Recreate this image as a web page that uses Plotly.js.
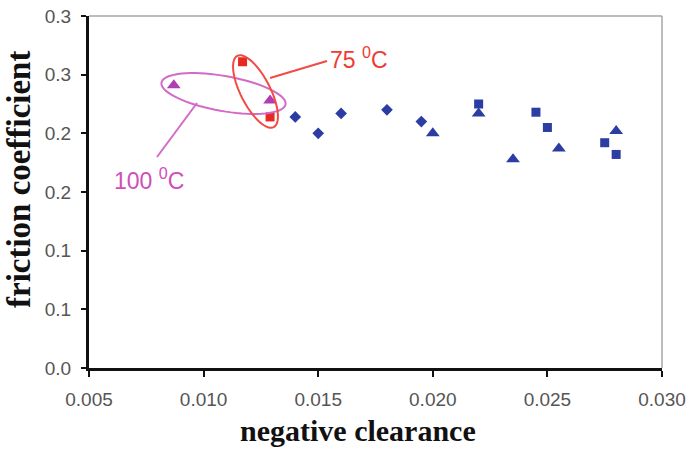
<!DOCTYPE html>
<html>
<head>
<meta charset="utf-8">
<script src="https://cdn.plot.ly/plotly-3.0.1.min.js"></script>
<style>html,body{margin:0;padding:0;background:#fff;}#chart{width:686px;height:449px;}</style>
</head>
<body>
<div id="chart"></div>
<script>
// ---- data ----
var diamondX = [0.0140, 0.0150, 0.0160, 0.0180, 0.0195];
var diamondY = [0.214, 0.200, 0.217, 0.220, 0.210];
var squareX  = [0.0220, 0.0245, 0.0250, 0.0275, 0.0280];
var squareY  = [0.225, 0.218, 0.205, 0.192, 0.182];
var triX     = [0.0200, 0.0220, 0.0235, 0.0255, 0.0280];
var triY     = [0.200, 0.217, 0.178, 0.187, 0.202];
var t75X     = [0.0117, 0.0129];
var t75Y     = [0.261, 0.214];
var t100X    = [0.0087, 0.0129];
var t100Y    = [0.241, 0.228];

var xTickVals = [0.005, 0.010, 0.015, 0.020, 0.025, 0.030];
var xTickText = ['0.005', '0.010', '0.015', '0.020', '0.025', '0.030'];
var yTickVals = [0, 0.05, 0.10, 0.15, 0.20, 0.25, 0.30];
var yTickText = ['0.0', '0.1', '0.1', '0.2', '0.2', '0.3', '0.3'];

var xTitle = 'negative clearance';
var yTitle = 'friction coefficient';
var label75 = '75 <sup>0</sup>C';
var label100 = '100 <sup>0</sup>C';

// ---- layout geometry ----
var W = 686, H = 449;
var M = {l: 89, r: 24, t: 16, b: 81};
var xr = [0.005, 0.030], yr = [0, 0.30];
var pw = W - M.l - M.r, ph = H - M.t - M.b;
function px2x(px) { return xr[0] + (px - M.l) / pw * (xr[1] - xr[0]); }
function py2y(py) { return yr[0] + (M.t + ph - py) / ph * (yr[1] - yr[0]); }

// ellipse outline (pixel geometry), converted to data-space path
function ellipsePath(cx, cy, a, b, angDeg) {
  var th = angDeg * Math.PI / 180, s = '';
  for (var i = 0; i <= 72; i++) {
    var t = i / 72 * 2 * Math.PI;
    var ex = a * Math.cos(t), ey = b * Math.sin(t);
    var X = cx + ex * Math.cos(th) - ey * Math.sin(th);
    var Y = cy + ex * Math.sin(th) + ey * Math.cos(th);
    s += (i === 0 ? 'M' : 'L') + px2x(X) + ',' + py2y(Y);
  }
  return s + 'Z';
}

var blue = '#2B3CA3', red = '#E8291F', mag = '#B23DB0';
var redLine = '#F24A45', magLine = '#D46AC8';
var serif = 'Liberation Serif, Times New Roman, serif';
var sans = 'Liberation Sans, Arial, sans-serif';

var traces = [
  {x: diamondX, y: diamondY, mode: 'markers', type: 'scatter', marker: {symbol: 'diamond', size: 9, color: blue}},
  {x: squareX, y: squareY, mode: 'markers', type: 'scatter', marker: {symbol: 'square', size: 9, color: blue}},
  {x: triX, y: triY, mode: 'markers', type: 'scatter', marker: {symbol: 'triangle-up', size: 12, color: blue}},
  {x: t75X, y: t75Y, mode: 'markers', type: 'scatter', marker: {symbol: 'square', size: 9, color: red}},
  {x: t100X, y: t100Y, mode: 'markers', type: 'scatter', marker: {symbol: 'triangle-up', size: 12, color: mag}}
];

var shapes = [
  {type: 'line', xref: 'paper', yref: 'paper', x0: 0, x1: 1, y0: 1, y1: 1, line: {color: '#a6a6a6', width: 1.5}},
  {type: 'line', xref: 'paper', yref: 'paper', x0: 1, x1: 1, y0: 0, y1: 1, line: {color: '#a6a6a6', width: 1.5}},
  {type: 'path', xref: 'x', yref: 'y', path: ellipsePath(223.5, 93.5, 63, 17.5, 10), line: {color: magLine, width: 2}},
  {type: 'path', xref: 'x', yref: 'y', path: ellipsePath(255.5, 91.5, 40, 14.8, 63), line: {color: redLine, width: 2}},
  {type: 'line', xref: 'x', yref: 'y', x0: px2x(270), y0: py2y(78), x1: px2x(327), y1: py2y(61), line: {color: redLine, width: 2}},
  {type: 'line', xref: 'x', yref: 'y', x0: px2x(197), y0: py2y(103), x1: px2x(157), y1: py2y(157), line: {color: magLine, width: 2}}
];

var annotations = [
  {xref: 'x', yref: 'y', x: px2x(328), y: py2y(58), text: label75, showarrow: false, xanchor: 'left', yanchor: 'middle',
   font: {family: sans, size: 23, color: '#F03A33'}},
  {xref: 'x', yref: 'y', x: px2x(112), y: py2y(179), text: label100, showarrow: false, xanchor: 'left', yanchor: 'middle',
   font: {family: sans, size: 23, color: '#D04DBA'}},
  {xref: 'paper', yref: 'paper', x: (358 - M.l) / pw, y: -(430 - M.t - ph) / ph, text: xTitle, showarrow: false,
   xanchor: 'center', yanchor: 'middle', font: {family: serif, size: 30, color: '#111111', weight: 'bold'}},
  {xref: 'paper', yref: 'paper', x: (19 - M.l) / pw, y: (M.t + ph - 180) / ph, text: yTitle, showarrow: false, textangle: -90,
   xanchor: 'center', yanchor: 'middle', font: {family: serif, size: 33, color: '#111111', weight: 'bold'}}
];

var layout = {
  width: W, height: H,
  margin: M,
  paper_bgcolor: '#ffffff', plot_bgcolor: '#ffffff',
  showlegend: false,
  hovermode: false,
  font: {family: sans, size: 19, color: '#555555'},
  xaxis: {
    range: xr, tickvals: xTickVals, ticktext: xTickText,
    showgrid: false, zeroline: false,
    showline: true, linecolor: '#111111', linewidth: 3,
    ticks: 'outside', ticklen: 6, tickwidth: 2, tickcolor: '#111111',
    ticklabelstandoff: 6,
    tickfont: {family: sans, size: 19, color: '#555555'}
  },
  yaxis: {
    range: yr, tickvals: yTickVals, ticktext: yTickText,
    showgrid: false, zeroline: false,
    showline: true, linecolor: '#111111', linewidth: 3,
    ticks: 'outside', ticklen: 5, tickwidth: 2, tickcolor: '#111111',
    ticklabelstandoff: 6,
    tickfont: {family: sans, size: 19, color: '#555555'}
  },
  shapes: shapes,
  annotations: annotations
};

Plotly.newPlot('chart', traces, layout, {displayModeBar: false, staticPlot: true});
</script>
</body>
</html>
